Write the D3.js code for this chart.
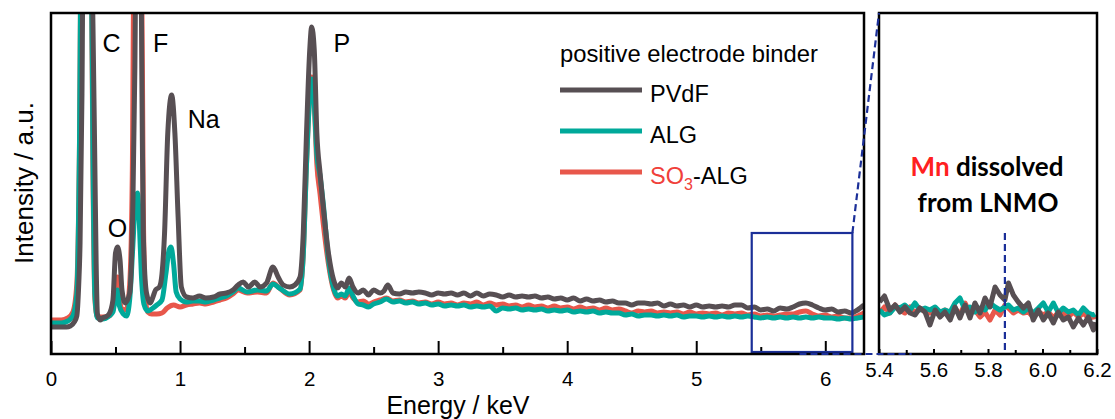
<!DOCTYPE html>
<html>
<head>
<meta charset="utf-8">
<script src="https://cdn.jsdelivr.net/npm/d3@7"></script>
<style>
body { margin: 0; background: #fff; }
svg text { font-family: "Liberation Sans", Arial, sans-serif; fill: #000; }
</style>
</head>
<body>
<svg id="chart" width="1115" height="419"></svg>
<script>
// EDS spectra, [energy keV, intensity a.u.]
var pvdf = [[0,27],[0.06,27],[0.12,27],[0.15,28],[0.18,32],[0.20,38],[0.215,70],[0.225,110],[0.24,260],[0.25,420],[0.31,420],[0.325,330],[0.34,187],[0.35,90],[0.36,40],[0.38,34],[0.40,36],[0.42,37],[0.45,40],[0.48,54],[0.50,101],[0.515,107],[0.535,94],[0.55,64],[0.575,51],[0.61,61],[0.635,154],[0.65,287],[0.66,420],[0.695,420],[0.705,260],[0.715,121],[0.74,61],[0.77,51],[0.79,57],[0.81,64],[0.84,67],[0.86,80],[0.88,121],[0.905,221],[0.935,259],[0.96,221],[0.985,137],[1.01,67],[1.05,57],[1.10,56],[1.15,58],[1.20,56],[1.26,57],[1.31,60],[1.36,61],[1.41,64],[1.45,69],[1.49,72],[1.53,67],[1.58,72],[1.62,67],[1.67,71],[1.72,87],[1.76,77],[1.80,69],[1.85,67],[1.89,69],[1.93,77],[1.955,121],[1.98,221],[2.005,304],[2.02,327],[2.04,304],[2.06,221],[2.085,181],[2.11,147],[2.15,101],[2.19,74],[2.22,66],[2.25,71],[2.28,67],[2.31,76],[2.34,67],[2.38,61],[2.42,64],[2.46,59],[2.50,64],[2.55,61],[2.58,63],[2.61,69],[2.65,61],[2.70,60],
  [2.75,62],[2.80,61],[2.85,62],[2.90,61],[2.95,59],[3.00,61],[3.05,60],[3.10,61],[3.15,59],[3.20,61],[3.25,58],[3.30,61],[3.35,58],[3.40,60],[3.45,59],[3.50,57],[3.55,59],[3.60,57],[3.65,58],[3.70,57],[3.75,58],[3.80,56],[3.85,57],[3.90,55],[3.95,56],[4.00,54],[4.05,56],[4.10,53],[4.15,55],[4.20,53],[4.25,54],[4.30,52],[4.35,53],[4.40,51],[4.45,51],[4.50,49],[4.55,51],[4.60,51],[4.65,50],[4.70,51],[4.75,48],[4.80,50],[4.85,48],[4.90,49],[4.95,47],[5.00,49],[5.05,47],[5.10,48],[5.15,47],[5.20,48],[5.25,47],[5.30,49],[5.35,49],[5.40,46],[5.45,47],[5.50,44],[5.55,45],[5.60,43],[5.65,46],[5.70,45],[5.75,47],[5.80,50],[5.85,51],[5.90,49],[5.95,46],[6.00,44],[6.05,45],[6.10,42],[6.15,43],[6.20,41],[6.25,44],[6.30,49]];

var alg = [[0,31],[0.08,31],[0.13,33],[0.17,38],[0.20,60],[0.22,200],[0.235,420],[0.31,420],[0.325,200],[0.34,60],[0.36,36],[0.40,35],[0.45,38],[0.48,42],[0.505,62],[0.515,64],[0.53,48],[0.56,40],[0.585,38],[0.61,55],[0.635,110],[0.655,155],[0.67,161],[0.685,130],[0.70,80],[0.72,50],[0.75,43],[0.78,45],[0.82,49],[0.86,54],[0.89,80],[0.915,104],[0.93,107],[0.95,90],[0.97,62],[1.00,55],[1.05,52],[1.10,53],[1.15,53],[1.20,52],[1.26,54],[1.31,56],[1.36,58],[1.41,62],[1.45,66],[1.52,62],[1.60,64],[1.67,63],[1.72,70],[1.77,66],[1.85,60],[1.93,65],[1.955,100],[1.98,190],[2.005,258],[2.02,275],[2.04,252],[2.06,200],[2.085,178],[2.11,150],[2.15,95],[2.19,66],[2.22,58],[2.25,60],[2.28,58],[2.31,66],[2.34,58],[2.38,50],[2.42,49],[2.46,47],[2.50,50],[2.55,52],[2.60,55],[2.65,52],
  [2.70,53],[2.75,51],[2.80,52],[2.85,50],[2.90,51],[2.95,49],[3.00,50],[3.05,48],[3.10,49],[3.15,48],[3.20,49],[3.25,47],[3.30,48],[3.35,47],[3.40,48],[3.45,43],[3.50,46],[3.55,45],[3.60,46],[3.65,44],[3.70,45],[3.75,44],[3.80,45],[3.85,43],[3.90,44],[3.95,43],[4.00,44],[4.05,42],[4.10,43],[4.15,42],[4.20,43],[4.25,41],[4.30,42],[4.35,41],[4.40,41],[4.45,39],[4.50,40],[4.55,38],[4.60,39],[4.65,39],[4.70,38],[4.75,39],[4.80,38],[4.85,39],[4.90,37],[4.95,38],[5.00,38],[5.05,37],[5.10,38],[5.15,37],[5.20,38],[5.25,37],[5.30,38],[5.35,37],[5.40,38],[5.45,37],[5.50,36],[5.55,37],[5.60,36],[5.65,37],[5.70,36],[5.75,37],[5.80,36],[5.85,37],[5.90,36],[5.95,37],[6.00,36],[6.05,36],[6.10,35],[6.15,36],[6.20,35],[6.25,36],[6.30,37]];

var so3alg = [[0,34],[0.08,34],[0.13,36],[0.17,42],[0.20,70],[0.22,200],[0.235,420],[0.31,420],[0.325,180],[0.34,55],[0.36,37],[0.40,37],[0.45,38],[0.48,45],[0.505,75],[0.515,77],[0.53,55],[0.555,44],[0.585,45],[0.61,70],[0.63,180],[0.645,420],[0.70,420],[0.715,150],[0.73,60],[0.75,42],[0.78,40],[0.82,40],[0.86,41],[0.90,46],[0.95,49],[1.00,47],[1.05,49],[1.10,50],[1.15,51],[1.20,50],[1.26,52],[1.31,54],[1.36,56],[1.41,60],[1.45,64],[1.52,61],[1.60,62],[1.67,61],[1.72,71],[1.77,66],[1.85,59],[1.93,64],[1.955,100],[1.98,190],[2.005,260],[2.02,277],[2.04,250],[2.06,190],[2.085,160],[2.11,130],[2.15,90],[2.19,64],[2.22,56],[2.25,58],[2.28,56],[2.31,62],[2.34,56],[2.38,52],[2.42,53],[2.46,50],[2.50,52],[2.55,54],[2.60,56],[2.65,53],
  [2.70,54],[2.75,52],[2.80,53],[2.85,51],[2.90,52],[2.95,50],[3.00,52],[3.05,50],[3.10,51],[3.15,49],[3.20,51],[3.25,50],[3.30,52],[3.35,49],[3.40,51],[3.45,49],[3.50,50],[3.55,48],[3.60,49],[3.65,47],[3.70,49],[3.75,47],[3.80,48],[3.85,46],[3.90,48],[3.95,46],[4.00,47],[4.05,45],[4.10,47],[4.15,45],[4.20,46],[4.25,44],[4.30,46],[4.35,44],[4.40,45],[4.45,43],[4.50,41],[4.55,43],[4.60,42],[4.65,43],[4.70,41],[4.75,42],[4.80,41],[4.85,42],[4.90,40],[4.95,42],[5.00,40],[5.05,41],[5.10,40],[5.15,41],[5.20,39],[5.25,41],[5.30,40],[5.35,41],[5.40,39],[5.45,40],[5.50,38],[5.55,39],[5.60,38],[5.65,39],[5.70,40],[5.75,40],[5.80,42],[5.85,43],[5.90,40],[5.95,38],[6.00,39],[6.05,37],[6.10,38],[6.15,36],[6.20,36],[6.25,38],[6.30,41]];

// zoomed window 5.4 - 6.2 keV
var insetEnergy = [5.402,5.420,5.440,5.459,5.477,5.495,5.514,5.532,5.550,5.569,5.587,5.606,5.624,5.642,5.661,5.679,5.697,5.716,5.734,5.752,5.771,5.789,5.807,5.826,5.844,5.862,5.875,5.893,5.911,5.930,5.948,5.966,5.985,6.003,6.021,6.040,6.058,6.076,6.095,6.113,6.132,6.150,6.168,6.187,6.193];
var insetPvdf = [52,58,44,49,42,47,41,39,46,42,29,44,37,42,34,47,36,49,36,51,41,56,47,67,59,54,71,59,52,46,51,34,44,34,41,31,42,34,37,27,36,29,37,24,32];
var insetAlg = [44,39,41,47,46,49,44,51,44,46,44,47,42,44,42,51,56,44,47,42,46,44,51,47,44,47,49,44,46,42,46,41,46,51,42,51,41,46,42,44,39,46,41,39,40];
var insetSo3 = [41,47,41,49,44,41,47,41,46,42,41,46,41,44,41,46,39,51,41,44,37,42,34,44,39,49,46,41,44,41,42,37,42,39,42,36,42,41,37,42,37,41,36,37,38];

var majorTicks = [0, 1, 2, 3, 4, 5, 6];
var minorTicks = [0.5, 1.5, 2.5, 3.5, 4.5, 5.5];
var insetMajor = [5.4, 5.6, 5.8, 6.0, 6.2];
var insetMinor = [5.5, 5.7, 5.9, 6.1];
var zoomBox = [5.43, 6.21];     // energy span of the marked window
var zoomBoxTop = 121;           // intensity at top of the marked window
var mnEnergy = 5.862;

var peakLabels = [
  {text: "C", e: 0.40, v: 302},
  {text: "F", e: 0.79, v: 302},
  {text: "O", e: 0.44, v: 117},
  {text: "Na", e: 1.06, v: 226},
  {text: "P", e: 2.19, v: 302}
];

var series = [
  {name: "SO3-ALG", main: so3alg, inset: insetSo3, color: "#e8574b"},
  {name: "ALG", main: alg, inset: insetAlg, color: "#00a99a"},
  {name: "PVdF", main: pvdf, inset: insetPvdf, color: "#574f53"}
];

var svg = d3.select("#chart");
var x = d3.scaleLinear().domain([0, 6.3]).range([51, 864]);
var xi = d3.scaleLinear().domain([5.4, 6.2]).range([879, 1097]);
var y = d3.scaleLinear().domain([0, 341]).range([354, 13]);
var blue = "#1b2f98";

var defs = svg.append("defs");
defs.append("clipPath").attr("id", "clipMain").append("rect")
    .attr("x", x.range()[0]).attr("y", y.range()[1])
    .attr("width", x.range()[1] - x.range()[0]).attr("height", y.range()[0] - y.range()[1]);
defs.append("clipPath").attr("id", "clipInset").append("rect")
    .attr("x", xi.range()[0]).attr("y", y.range()[1])
    .attr("width", xi.range()[1] - xi.range()[0]).attr("height", y.range()[0] - y.range()[1]);

function drawLine(g, data, xs, color, curve) {
    var line = d3.line()
        .x(function(d) { return xs(d[0]); })
        .y(function(d) { return y(d[1]); })
        .curve(curve);
    g.append("path")
        .datum(data)
        .attr("d", line)
        .attr("fill", "none")
        .attr("stroke", color)
        .attr("stroke-width", 5)
        .attr("stroke-linejoin", "round");
}

var gMain = svg.append("g").attr("clip-path", "url(#clipMain)");
var gInset = svg.append("g").attr("clip-path", "url(#clipInset)");
series.forEach(function(s) {
    drawLine(gMain, s.main, x, s.color, d3.curveMonotoneX);
    var pts = insetEnergy.map(function(e, i) { return [e, s.inset[i]]; });
    drawLine(gInset, pts, xi, s.color, d3.curveLinear);
});

// ticks pointing inward
function ticks(scale, values, size, pad, fmt) {
    var g = svg.append("g")
        .attr("transform", "translate(0," + y.range()[0] + ")")
        .call(d3.axisBottom(scale).tickValues(values).tickSize(-size).tickPadding(pad).tickFormat(fmt));
    g.select(".domain").remove();
    g.selectAll("line").attr("stroke", "#000").attr("stroke-width", 2);
    g.selectAll("text").attr("font-size", "20.5px").attr("fill", "#000")
        .attr("font-family", "'Liberation Sans', Arial, sans-serif");
    return g;
}
ticks(x, majorTicks, 13, 17, d3.format("d"));
ticks(x, minorTicks, 7, 0, function() { return ""; });
ticks(xi, insetMajor, 5, 8, d3.format(".1f"));
ticks(xi, insetMinor, 4, 0, function() { return ""; });

// zoom window
svg.append("rect")
    .attr("x", x(zoomBox[0])).attr("y", y(zoomBoxTop))
    .attr("width", x(zoomBox[1]) - x(zoomBox[0]))
    .attr("height", y(2) - y(zoomBoxTop))
    .attr("fill", "none").attr("stroke", blue).attr("stroke-width", 2.2);

// frames
[x, xi].forEach(function(sc) {
    svg.append("rect")
        .attr("x", sc.range()[0]).attr("y", y.range()[1])
        .attr("width", sc.range()[1] - sc.range()[0])
        .attr("height", y.range()[0] - y.range()[1])
        .attr("fill", "none").attr("stroke", "#000").attr("stroke-width", 2.5);
});

// dashed connectors
svg.append("line")
    .attr("x1", x(zoomBox[1])).attr("y1", y(zoomBoxTop))
    .attr("x2", xi(5.4)).attr("y2", y(341))
    .attr("stroke", blue).attr("stroke-width", 2.2).attr("stroke-dasharray", "7,4");
svg.append("line")
    .attr("x1", x(5.8)).attr("y1", y(0))
    .attr("x2", xi(5.52)).attr("y2", y(0))
    .attr("stroke", blue).attr("stroke-width", 2.2).attr("stroke-dasharray", "7,4");
svg.append("line")
    .attr("x1", xi(mnEnergy)).attr("y1", y(zoomBoxTop))
    .attr("x2", xi(mnEnergy)).attr("y2", y(4))
    .attr("stroke", blue).attr("stroke-width", 2.2).attr("stroke-dasharray", "7,4");

// element labels
svg.selectAll(".peak").data(peakLabels).enter().append("text")
    .attr("class", "peak")
    .attr("x", function(d) { return x(d.e); })
    .attr("y", function(d) { return y(d.v); })
    .attr("font-size", "25px")
    .text(function(d) { return d.text; });

// axis titles
svg.append("text")
    .attr("x", 458).attr("y", 414)
    .attr("text-anchor", "middle").attr("font-size", "25px")
    .text("Energy / keV");
svg.append("text")
    .attr("transform", "translate(33,183) rotate(-90)")
    .attr("text-anchor", "middle").attr("font-size", "26px")
    .text("Intensity / a.u.");

// legend
var legend = svg.append("g").attr("transform", "translate(560,0)");
legend.append("text").attr("x", 0).attr("y", 62).attr("font-size", "23.8px")
    .text("positive electrode binder");
var legendRows = [series[2], series[1], series[0]];
legendRows.forEach(function(s, i) {
    var cy = 90 + i * 41;
    legend.append("line")
        .attr("x1", 0).attr("x2", 82).attr("y1", cy).attr("y2", cy)
        .attr("stroke", s.color).attr("stroke-width", 5);
    var t = legend.append("text").attr("x", 90).attr("y", cy + 12).attr("font-size", "23.5px");
    if (s.name == "SO3-ALG") {
        t.append("tspan").attr("fill", "#f0403a").text("SO");
        t.append("tspan").attr("fill", "#f0403a").attr("font-size", "16px").attr("dy", 6).text("3");
        t.append("tspan").attr("dy", -6).text("-ALG");
    } else {
        t.text(s.name);
    }
});

// Mn annotation
var note = svg.append("g").attr("font-weight", "bold");
var l1 = note.append("text").attr("x", 987).attr("y", 176).attr("text-anchor", "middle")
    .attr("font-size", "26px").style("font-family", "Lato, 'Open Sans', sans-serif");
l1.append("tspan").attr("fill", "#ff2020").text("Mn");
l1.append("tspan").text(" dissolved");
note.append("text").attr("x", 988).attr("y", 212).attr("text-anchor", "middle")
    .attr("font-size", "26px").style("font-family", "Lato, 'Open Sans', sans-serif")
    .text("from LNMO");
</script>
</body>
</html>
